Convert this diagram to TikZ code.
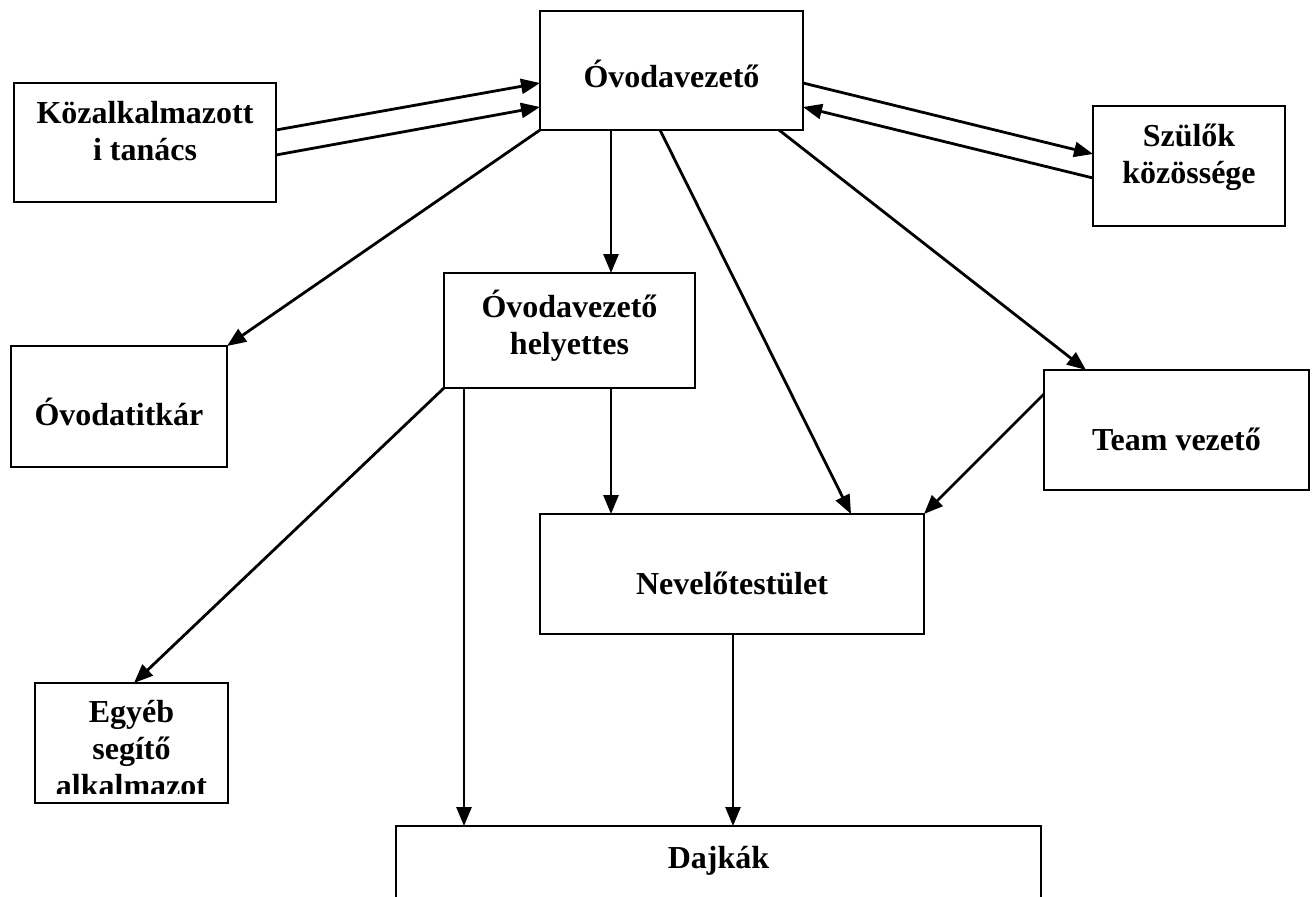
\documentclass[tikz,border=0pt]{standalone}
\usepackage{fontspec}
\setmainfont{Liberation Serif}
\usetikzlibrary{arrows.meta,calc}
\begin{document}
\begin{tikzpicture}[x=1pt,y=-1pt,
  box/.style={draw,line width=2.4pt,rectangle,inner sep=0pt,outer sep=0pt},
  % base anchor of a multi-line label sits on its last line
  lbl/.style={font=\fontsize{32}{37}\selectfont\bfseries,align=center,anchor=base,inner sep=0pt},
  link/.style={line width=2.8pt,-{Triangle[length=19pt,width=15pt]}}]
  % page area
  \clip (0,0) rectangle (1315,897);
  \fill[white] (0,0) rectangle (1315,897);

  % boxes
  \node[box,minimum width=263pt,minimum height=119pt] (vez)  at (671.5,70.5) {};
  \node[box,minimum width=262pt,minimum height=119pt] (koz)  at (145,142.5) {};
  \node[box,minimum width=192pt,minimum height=120pt] (szul) at (1189,166) {};
  \node[box,minimum width=251pt,minimum height=115pt] (hely) at (569.5,330.5) {};
  \node[box,minimum width=216pt,minimum height=121pt] (titk) at (119,406.5) {};
  \node[box,minimum width=265pt,minimum height=120pt] (team) at (1176.5,430) {};
  \node[box,minimum width=384pt,minimum height=120pt] (nev)  at (732,574) {};
  \node[box,minimum width=193pt,minimum height=120pt] (egy)  at (131.5,743) {};
  \node[box,minimum width=645pt,minimum height=140pt] (dajk) at (718.5,896) {};

  % labels
  \node[lbl] (vez-t)  at (671.5,87)  {Óvodavezető};
  \node[lbl] (koz-t)  at (145,160)   {Közalkalmazott\\i tanács};
  \node[lbl] (szul-t) at (1189,183)  {Szülők\\közössége};
  \node[lbl] (hely-t) at (569.5,354) {Óvodavezető\\helyettes};
  \node[lbl] (titk-t) at (119,425)   {Óvodatitkár};
  \node[lbl] (team-t) at (1176.5,450) {Team vezető};
  \node[lbl] (nev-t)  at (732,594)   {Nevelőtestület};
  \node[lbl] (dajk-t) at (718.5,868) {Dajkák};
  \begin{scope}
    \clip ($(egy.north west)+(2,2)$) rectangle ($(egy.south east)+(-2,-10)$);
    \node[lbl] (egy-t) at (131.5,796) {Egyéb\\segítő\\alkalmazot};
  \end{scope}

  % connectors
  \draw[link] ($(koz.north east)+(0,47)$) -- ($(vez.north west)+(0,72)$);
  \draw[link] ($(koz.north east)+(0,72)$) -- ($(vez.north west)+(0,96)$);
  \draw[link] ($(vez.north east)+(0,72)$) -- ($(szul.north west)+(0,48)$);
  \draw[link] ($(szul.north west)+(0,72)$) -- ($(vez.north east)+(0,96)$);
  \draw[link] (vez.south west) -- (titk.north east);
  \draw[link] ($(vez.south west)+(71,0)$) -- ($(hely.north west)+(167,0)$);
  \draw[link] ($(vez.south west)+(120,0)$) -- ($(nev.north west)+(311,0)$);
  \draw[link] ($(vez.south west)+(239,0)$) -- ($(team.north west)+(42,0)$);
  \draw[link] ($(team.north west)+(0,24)$) -- (nev.north east);
  \draw[link] ($(hely.south west)+(167,0)$) -- ($(nev.north west)+(71,0)$);
  \draw[link] (hely.south west) -- ($(egy.north west)+(99,0)$);
  \draw[link] ($(hely.south west)+(20,0)$) -- ($(dajk.north west)+(68,0)$);
  \draw[link] ($(nev.south west)+(193,0)$) -- ($(dajk.north west)+(337,0)$);
\end{tikzpicture}
\end{document}
